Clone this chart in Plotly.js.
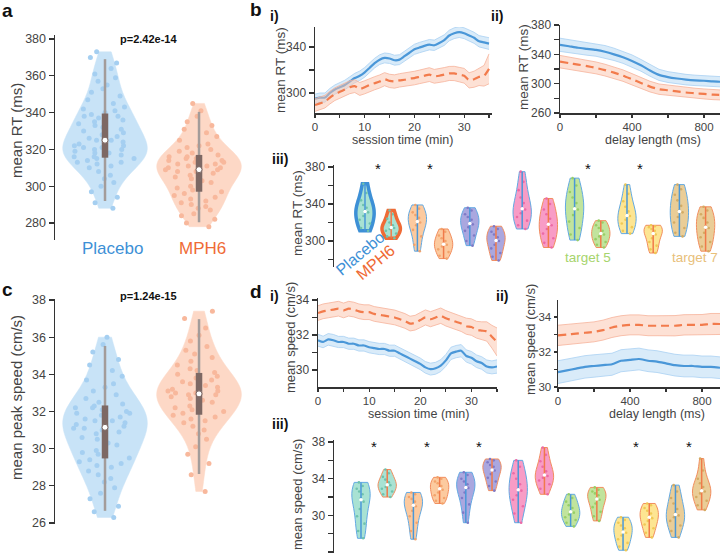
<!DOCTYPE html>
<html><head><meta charset="utf-8">
<script src="https://cdn.plot.ly/plotly-3.0.1.min.js"></script>
<style>html,body{margin:0;padding:0;background:#fff}#chart{width:720px;height:556px}</style>
</head><body><div id="chart"></div>
<script>
// ---------------- DATA ----------------
const conditions = ['Placebo', 'MPH6'];
const rtPlacebo = [288,291,294,297,300,302,304,306,308,310,311,312,313,313,314,315,315,316,316,317,317,318,318,319,319,320,320,321,321,322,322,323,324,325,325,326,327,328,329,330,331,332,333,334,335,336,337,338,338,339,340,341,342,343,345,347,349,351,353,355,357,359,361,364,367,370,373];
const rtMPH6 = [278,280,282,284,285,287,288,289,290,291,292,293,294,295,296,297,298,299,300,301,302,303,304,305,306,306,307,308,308,309,309,310,310,311,311,312,312,313,313,314,314,315,315,316,316,317,318,319,320,321,322,323,325,327,329,331,333,335,338,341,345];
const speedPlacebo = [26.3,26.6,26.9,27.3,27.6,27.9,28.2,28.4,28.6,28.8,29.0,29.1,29.2,29.3,29.4,29.5,29.7,29.8,29.9,30.1,30.2,30.3,30.5,30.6,30.7,30.8,30.9,31.0,31.1,31.1,31.2,31.3,31.4,31.5,31.5,31.6,31.7,31.8,31.9,31.9,32.0,32.1,32.2,32.2,32.3,32.4,32.5,32.7,32.9,33.1,33.3,33.5,33.7,33.9,34.2,34.5,34.8,35.2,35.6,36.0];
const speedMPH6 = [27.7,28.6,29.2,29.7,30.1,30.5,30.8,31.0,31.2,31.4,31.5,31.6,31.7,31.8,31.9,32.0,32.1,32.2,32.3,32.4,32.5,32.6,32.7,32.8,32.8,32.9,32.9,33.0,33.0,33.1,33.1,33.2,33.3,33.4,33.5,33.6,33.7,33.8,33.9,34.0,34.1,34.2,34.3,34.5,34.7,34.9,35.1,35.3,35.5,35.8,36.1,36.5,37.0,37.4];
const pValueRT = 'p=2.42e-14';
const pValueSpeed = 'p=1.24e-15';

const sessionTime = [0,1,2,3,4,5,6,7,8,9,10,11,12,13,14,15,16,17,18,19,20,21,22,23,24,25,26,27,28,29,30,31,32,33,34,35];
const rtSessPlacebo = [295,296,296,300,303,305,307,310,313,315,318,322,326,329,330.5,330,328.5,329,332,335,338,339.5,341,342,341.5,343.5,346,350,352,353,352,350,348,345,344,343];
const rtSessPlaceboSem = [4,4,4,4,4,4,4.1,4.1,4.1,4.1,4.2,4.2,4.2,4.2,4.3,4.3,4.3,4.3,4.4,4.4,4.4,4.5,4.5,4.5,4.5,4.6,4.6,4.6,4.7,4.7,4.7,4.8,4.8,4.9,5,5.1];
const rtSessMPH6 = [289.5,291,292.5,296,299,301,303,305,306,303.5,305,307,308.5,310,312,310.5,310,311,311.5,312.5,313,314,315,316,314.5,315,316,317,317,316,315,311,312,314,315,321];
const rtSessMPH6Sem = [5.5,5.5,5.5,5.5,5.5,5.6,5.6,5.6,5.6,5.6,5.7,5.7,5.7,5.7,5.7,5.8,5.8,5.8,5.8,5.8,5.9,5.9,5.9,6,6,6,6.1,6.1,6.2,6.3,6.4,6.6,7,7.5,9,13];

const delayLength = [0,50,100,150,200,250,300,350,400,450,500,550,600,650,700,750,800,850,900];
const rtDelPlacebo = [353,351,349,347.5,346,343.5,340,336,331,325,318,312,309,307,305.5,304.5,304,303,302.5];
const rtDelPlaceboSem = [9,9,8.8,8.7,8.6,8.5,8.4,8.3,8.2,8,7.8,7.6,7.4,7.3,7.2,7.1,7,7,7];
const rtDelMPH6 = [330,328,326,324,321.5,318.5,315,311,306,301,296,292.5,291,289.5,288,287,286,285,284.5];
const rtDelMPH6Sem = [8.5,8.4,8.3,8.2,8.1,8,7.9,7.8,7.7,7.5,7.3,7.1,7,6.9,6.8,6.8,6.8,6.8,6.8];

const spdSessPlacebo = [31.7,31.6,31.75,31.7,31.6,31.6,31.5,31.5,31.4,31.4,31.3,31.25,31.2,31.2,31.1,31.1,30.95,30.8,30.65,30.5,30.35,30.15,30.05,30.1,30.25,30.55,30.95,31.05,31.1,30.8,30.7,30.5,30.4,30.2,30.15,30.2];
const spdSessPlaceboSem = [0.34,0.33,0.33,0.33,0.32,0.32,0.32,0.32,0.32,0.32,0.32,0.32,0.32,0.32,0.32,0.32,0.32,0.33,0.33,0.33,0.33,0.33,0.34,0.34,0.34,0.34,0.35,0.35,0.35,0.35,0.36,0.36,0.36,0.37,0.37,0.38];
const spdSessMPH6 = [33.25,33.35,33.4,33.45,33.5,33.4,33.5,33.45,33.35,33.3,33.3,33.2,33.15,33.1,33.05,33.0,32.9,32.8,32.65,32.7,32.85,33.0,32.9,33.0,33.1,32.95,32.85,32.75,32.65,32.5,32.45,32.3,32.25,32.2,31.9,31.6];
const spdSessMPH6Sem = [0.42,0.42,0.42,0.42,0.42,0.42,0.42,0.42,0.42,0.42,0.42,0.42,0.42,0.42,0.42,0.42,0.42,0.42,0.42,0.42,0.43,0.43,0.43,0.43,0.44,0.44,0.44,0.45,0.45,0.46,0.47,0.48,0.5,0.55,0.65,0.8];

const spdDelPlacebo = [30.85,30.95,31.05,31.15,31.2,31.25,31.3,31.5,31.55,31.6,31.5,31.45,31.35,31.25,31.2,31.2,31.15,31.15,31.1];
const spdDelPlaceboSem = [0.65,0.65,0.65,0.64,0.64,0.63,0.63,0.63,0.62,0.62,0.62,0.62,0.62,0.62,0.62,0.62,0.62,0.62,0.62];
const spdDelMPH6 = [32.95,33.0,33.05,33.1,33.15,33.25,33.4,33.5,33.55,33.55,33.5,33.5,33.5,33.5,33.55,33.55,33.55,33.6,33.6];
const spdDelMPH6Sem = [0.58,0.58,0.58,0.58,0.57,0.57,0.57,0.57,0.57,0.57,0.57,0.57,0.57,0.58,0.58,0.58,0.59,0.6,0.6];

const targetNames = ['target 1','target 2','target 3','target 4','target 5','target 6','target 7'];
const targetRTPlacebo = [
  [311,314,319,323,327,331,333,336,339,344,352,362],
  [289,296,305,312,317,320,322,325,328,331,335,339],
  [295,300,306,311,315,318,320,323,326,329,333,336],
  [313,317,322,326,330,334,336,341,347,355,364,375],
  [301,307,314,321,328,334,336,341,347,353,360,368],
  [308,311,315,319,323,327,328,332,337,343,351,361],
  [305,309,314,320,326,331,333,338,344,350,356,361]];
const targetRTMPH6 = [
  [303,305,308,311,313,314,315,317,320,324,329,333],
  [281,284,288,291,294,296,297,300,303,306,310,313],
  [279,283,287,292,296,300,301,304,307,310,313,316],
  [293,298,303,308,313,317,319,324,329,334,340,346],
  [293,296,299,302,305,307,309,311,314,317,320,322],
  [287,291,295,299,303,307,309,311,313,315,316,317],
  [289,294,299,304,309,314,316,320,325,329,333,337]];
const targetSpeedPlacebo = [
  [27.5,28.3,29.1,29.9,30.7,31.5,31.9,32.3,32.6,32.9,33.2,33.6],
  [27.4,28.3,29.2,29.9,30.5,31.0,31.2,31.5,31.8,32.0,32.3,32.5],
  [29.2,30.3,31.2,31.9,32.5,33.0,33.1,33.4,33.7,34.0,34.4,34.7],
  [29.2,30.2,31.0,31.7,32.2,32.7,32.9,33.4,34.0,34.6,35.3,36.0],
  [28.8,29.2,29.5,29.8,30.1,30.3,30.5,30.8,31.1,31.5,31.9,32.3],
  [26.2,26.6,27.0,27.4,27.8,28.1,28.3,28.6,28.9,29.2,29.5,29.8],
  [27.6,28.3,28.9,29.4,29.8,30.0,30.2,30.7,31.3,31.9,32.6,33.3]];
const targetSpeedMPH6 = [
  [32.0,32.3,32.6,32.9,33.1,33.3,33.4,33.6,33.9,34.2,34.6,35.0],
  [31.3,31.6,31.9,32.2,32.5,32.8,33.0,33.2,33.5,33.7,34.0,34.15],
  [32.7,33.2,33.7,34.1,34.5,34.9,35.0,35.3,35.5,35.8,36.0,36.15],
  [32.3,32.9,33.4,33.8,34.1,34.3,34.5,34.8,35.3,35.9,36.6,37.4],
  [29.4,29.9,30.4,30.9,31.3,31.7,31.9,32.2,32.4,32.6,32.8,33.05],
  [27.6,28.1,28.6,29.0,29.4,29.7,29.9,30.2,30.5,30.8,31.1,31.3],
  [30.6,31.1,31.6,32.0,32.4,32.6,32.8,33.1,33.5,34.0,34.9,36.2]];
const sigTargetsRT = [1,2,5,6];
const sigTargetsSpeed = [1,2,3,6,7];

// tick labels
const aTickVals = [280,300,320,340,360,380], aTickText = ['280','300','320','340','360','380'];
const cTickVals = [26,28,30,32,34,36,38], cTickText = ['26','28','30','32','34','36','38'];
const biYVals = [300,320,340], biYText = ['300','','340'];
const sessXVals = [0,5,10,15,20,25,30,35], sessXText = ['0','','10','','20','','30',''];
const biiYVals = [260,280,300,320,340,360,380], biiYText = ['260','','300','','340','','380'];
const delXVals = [0,200,400,600,800], delXText = ['0','','400','','800'];
const biiiYVals = [280,300,320,340,360,380], biiiYText = ['','300','','340','','380'];
const diYVals = [30,31,32,33,34], diYText = ['30','','32','','34'];
const diiYVals = [30,31,32,33,34,35], diiYText = ['30','','32','','34',''];
const diiiYVals = [26,28,30,32,34,36,38], diiiYText = ['26','','30','','34','','38'];

// ---------------- STYLE ----------------
const FONT = '"Liberation Sans", Arial, Helvetica, sans-serif';
const W = 720, H = 556;
const BLUE = '#3d90d6', ORANGE = '#ef6b36';
const targetFill = ['#a8e2d3','#fcca9f','#aaa7df','#f89cc6','#c1e49d','#fde592','#eacd97'];
const targetPts  = ['#6fc3ad','#f3a46c','#7f7ac7','#ec6aa6','#98cf66','#f0c955','#d4ab63'];
const xd = (a,b) => [a/W, b/W];
const yd = (t,b) => [1-b/H, 1-t/H];

function quant(arr, p){const s=[...arr].sort((a,b)=>a-b);const i=(s.length-1)*p;const lo=Math.floor(i),hi=Math.ceil(i);return s[lo]+(s[hi]-s[lo])*(i-lo);}

const traces = [];
function violin(y, k, xa, ya, fill, lineColor, lineWidth, pt, ptSize, width, jitter){
  return {type:'violin', orientation:'v', x0:k, y:y, xaxis:xa, yaxis:ya, fillcolor:fill,
    line:{color:lineColor, width:lineWidth}, points:'all', pointpos:0, jitter:jitter,
    marker:{color:pt, size:ptSize, line:{width:0}}, spanmode:'hard', scalemode:'width', width:width,
    box:{visible:false}, meanline:{visible:false}, hoverinfo:'skip', name:''};
}
function bigBox(sets, xa, ya){
  const wx=[],wy=[],bx=[],by=[],mx=[],my=[];
  sets.forEach((d,k)=>{wx.push(k,k,null);wy.push(quant(d,0.02),quant(d,0.98),null);
    bx.push(k,k,null);by.push(quant(d,0.25),quant(d,0.75),null);mx.push(k);my.push(quant(d,0.5));});
  traces.push({type:'scatter',mode:'lines',x:wx,y:wy,xaxis:xa,yaxis:ya,line:{color:'#a39c9a',width:2.5},hoverinfo:'skip'});
  traces.push({type:'scatter',mode:'lines',x:bx,y:by,xaxis:xa,yaxis:ya,line:{color:'#7d6864',width:6.5},hoverinfo:'skip'});
  traces.push({type:'scatter',mode:'markers',x:mx,y:my,xaxis:xa,yaxis:ya,marker:{color:'#fff',size:6,line:{color:'#7d6864',width:1}},hoverinfo:'skip'});
}
// panel a
traces.push(violin(rtPlacebo,0,'x','y','#c8e3f7','#c8e3f7',0.5,'#a5cff1',5,0.9,0.85));
traces.push(violin(rtMPH6,1,'x','y','#fdd8c6','#fdd8c6',0.5,'#f8b89c',5,0.9,0.85));
bigBox([rtPlacebo, rtMPH6],'x','y');
// panel c
traces.push(violin(speedPlacebo,0,'x5','y5','#c8e3f7','#c8e3f7',0.5,'#a5cff1',5,0.9,0.85));
traces.push(violin(speedMPH6,1,'x5','y5','#fdd8c6','#fdd8c6',0.5,'#f8b89c',5,0.9,0.85));
bigBox([speedPlacebo, speedMPH6],'x5','y5');

// band panels
function band(x, m, e, xa, ya, color, bandFill, edge, dash){
  const lo = m.map((v,i)=>v-e[i]), hi = m.map((v,i)=>v+e[i]);
  traces.push({type:'scatter',mode:'lines',x:x,y:lo,xaxis:xa,yaxis:ya,line:{color:edge,width:0.8},hoverinfo:'skip'});
  traces.push({type:'scatter',mode:'lines',x:x,y:hi,xaxis:xa,yaxis:ya,line:{color:edge,width:0.8},fill:'tonexty',fillcolor:bandFill,hoverinfo:'skip'});
  traces.push({type:'scatter',mode:'lines',x:x,y:m,xaxis:xa,yaxis:ya,line:{color:color,width:2.2,dash:dash,shape:'spline',smoothing:0.6},hoverinfo:'skip'});
}
const BF='rgba(170,210,242,0.45)', BE='#a9d1f2', OF='rgba(251,196,172,0.5)', OE='#f6b39a';
band(sessionTime, rtSessPlacebo, rtSessPlaceboSem, 'x2','y2', '#4a97d8', BF, BE, 'solid');
band(sessionTime, rtSessMPH6, rtSessMPH6Sem, 'x2','y2', '#f27b4c', OF, OE, '8px,5px');
band(delayLength, rtDelPlacebo, rtDelPlaceboSem, 'x3','y3', '#4a97d8', BF, BE, 'solid');
band(delayLength, rtDelMPH6, rtDelMPH6Sem, 'x3','y3', '#f27b4c', OF, OE, '8px,5px');
band(sessionTime, spdSessPlacebo, spdSessPlaceboSem, 'x6','y6', '#4a97d8', BF, BE, 'solid');
band(sessionTime, spdSessMPH6, spdSessMPH6Sem, 'x6','y6', '#f27b4c', OF, OE, '8px,5px');
band(delayLength, spdDelPlacebo, spdDelPlaceboSem, 'x7','y7', '#4a97d8', BF, BE, 'solid');
band(delayLength, spdDelMPH6, spdDelMPH6Sem, 'x7','y7', '#f27b4c', OF, OE, '8px,5px');

// target violins
function targetPanel(pl, mp, xa, ya, thickFirst){
  const lx={p:[],m:[]}, ly={p:[],m:[]}, mx=[], my=[];
  for(let t=0;t<pl.length;t++){
    const kp=2*t+1, km=2*t+2;
    const thick = thickFirst && t===0;
    traces.push(violin(pl[t],kp,xa,ya,targetFill[t],thick?BLUE:'#62a9e3',thick?3.5:1,targetPts[t],2.6,0.7,0.7));
    traces.push(violin(mp[t],km,xa,ya,targetFill[t],thick?ORANGE:'#f28d5e',thick?3.5:1,targetPts[t],2.6,0.7,0.7));
    lx.p.push(kp,kp,null); ly.p.push(Math.min(...pl[t]),Math.max(...pl[t]),null);
    lx.m.push(km,km,null); ly.m.push(Math.min(...mp[t]),Math.max(...mp[t]),null);
    mx.push(kp,km); my.push(quant(pl[t],0.5),quant(mp[t],0.5));
  }
  traces.push({type:'scatter',mode:'lines',x:lx.p,y:ly.p,xaxis:xa,yaxis:ya,line:{color:'#4a97d8',width:1.5},hoverinfo:'skip'});
  traces.push({type:'scatter',mode:'lines',x:lx.m,y:ly.m,xaxis:xa,yaxis:ya,line:{color:'#f07a4a',width:1.5},hoverinfo:'skip'});
  traces.push({type:'scatter',mode:'markers',x:mx,y:my,xaxis:xa,yaxis:ya,marker:{color:'#fff',size:3.5},hoverinfo:'skip'});
}
targetPanel(targetRTPlacebo, targetRTMPH6, 'x4','y4', true);
targetPanel(targetSpeedPlacebo, targetSpeedMPH6, 'x8','y8', false);

// ---------------- LAYOUT ----------------
function yAxis(dom, range, vals, text, anchor, size, tl){
  return {domain:dom, range:range, anchor:anchor, tickmode:'array', tickvals:vals, ticktext:text,
    showline:true, linecolor:'#333', linewidth:1.5, ticks:'outside', ticklen:(tl||5), tickwidth:1.2, tickcolor:'#333',
    tickfont:{family:FONT,size:size||12,color:'#444'}, showgrid:false, zeroline:false, fixedrange:true};
}
function xAxis(dom, range, vals, text, anchor){
  if(!vals) return {domain:dom, range:range, anchor:anchor, visible:false, fixedrange:true};
  return {domain:dom, range:range, anchor:anchor, tickmode:'array', tickvals:vals, ticktext:text,
    showline:true, linecolor:'#333', linewidth:1.5, ticks:'outside', ticklen:3, tickwidth:1.2, tickcolor:'#333',
    tickfont:{family:FONT,size:11.5,color:'#444'}, showgrid:false, zeroline:false, fixedrange:true};
}

const annotations = [];
function ann(text, x, y, o){o=o||{};annotations.push(Object.assign({text:text, x:x/W, y:1-y/H, xref:'paper', yref:'paper', showarrow:false,
  xanchor:'center', yanchor:'middle', font:{family:FONT,size:o.size||13,color:o.color||'#444'}}, o.extra||{}));}
// panel letters
ann('<b>a</b>',7,10,{size:19,color:'#111'}); ann('<b>b</b>',256,9,{size:19,color:'#111'});
ann('<b>c</b>',7,289,{size:19,color:'#111'}); ann('<b>d</b>',256,291,{size:19,color:'#111'});
ann('<b>i)</b>',274,16,{size:14,color:'#111'}); ann('<b>ii)</b>',497,16,{size:14,color:'#111'});
ann('<b>iii)</b>',280,159,{size:14,color:'#111'});
ann('<b>i)</b>',274,296,{size:14,color:'#111'}); ann('<b>ii)</b>',502,296,{size:14,color:'#111'});
ann('<b>iii)</b>',280,424,{size:14,color:'#111'});
// p values
ann('<b>'+pValueRT+'</b>',148,39,{size:11,color:'#111'});
ann('<b>'+pValueSpeed+'</b>',148,296,{size:11,color:'#111'});
// condition labels
ann(conditions[0],112,248,{size:17,color:'#3d90d6'}); ann(conditions[1],202,248,{size:17,color:'#ef6b36'});
ann(conditions[0],360,253,{size:16,color:'#3d90d6',extra:{textangle:-40}});
ann(conditions[1],375,262,{size:16,color:'#ef6b36',extra:{textangle:-40}});
ann(targetNames[4],588,257,{size:13.5,color:'#a6d46c'});
ann(targetNames[6],695,257,{size:13.5,color:'#e8c07a'});
// axis titles
ann('mean RT (ms)',16,131,{size:15,extra:{textangle:-90}});
ann('mean peak speed (cm/s)',16,398,{size:15,extra:{textangle:-90}});
ann('mean RT (ms)',280,70,{size:13.5,extra:{textangle:-90}});
ann('session time (min)',402,140,{size:12.5});
ann('mean RT (ms)',523,67,{size:13.5,extra:{textangle:-90}});
ann('delay length (ms)',653,140,{size:12.5});
ann('mean RT (ms)',297,213,{size:13.5,extra:{textangle:-90}});
ann('mean speed (cm/s)',290,338,{size:13,extra:{textangle:-90}});
ann('session time (min)',418,413.5,{size:12.5});
ann('mean speed (cm/s)',530,340,{size:13,extra:{textangle:-90}});
ann('delay length (ms)',657,413.5,{size:12.5});
ann('mean speed (cm/s)',297,495,{size:13,extra:{textangle:-90}});
// significance stars (data coords)
sigTargetsRT.forEach(t=>annotations.push({text:'*',x:2*t-0.5,y:378,xref:'x4',yref:'y4',showarrow:false,font:{family:FONT,size:15,color:'#111'},yanchor:'middle'}));
sigTargetsSpeed.forEach(t=>annotations.push({text:'*',x:2*t-0.5,y:37.5,xref:'x8',yref:'y8',showarrow:false,font:{family:FONT,size:15,color:'#111'},yanchor:'middle'}));

const layout = {
  width:W, height:H, margin:{l:0,r:0,t:0,b:0}, paper_bgcolor:'#fff', plot_bgcolor:'rgba(0,0,0,0)',
  showlegend:false, violinmode:'overlay', font:{family:FONT}, annotations:annotations,
  xaxis: xAxis(xd(55,245), [-0.532,1.489], null, null, 'y'),
  yaxis: yAxis(yd(35,240), [270.76,382.17], aTickVals, aTickText, 'x', 12.5),
  xaxis2: xAxis(xd(315,492), [0,35.6], sessXVals, sessXText, 'y2'),
  yaxis2: yAxis(yd(27,113), [282.6,357.4], biYVals, biYText, 'x2'),
  xaxis3: xAxis(xd(560,720), [0,889], delXVals, delXText, 'y3'),
  yaxis3: yAxis(yd(25,113), [260,380], biiYVals, biiYText, 'x3'),
  xaxis4: xAxis(xd(334,720), [-0.183,14.55], null, null, 'y4'),
  yaxis4: yAxis(yd(165,267), [271.9,382.2], biiiYVals, biiiYText, 'x4'),
  xaxis5: xAxis(xd(55,245), [-0.532,1.489], null, null, 'y5'),
  yaxis5: yAxis(yd(299,524), [25.946,38.054], cTickVals, cTickText, 'x5', 12.5),
  xaxis6: xAxis(xd(318,497), [0,35], sessXVals, sessXText, 'y6'),
  yaxis6: yAxis(yd(298,387), [29.03,34.11], diYVals, diYText, 'x6'),
  xaxis7: xAxis(xd(558,720), [0,900], delXVals, delXText, 'y7'),
  yaxis7: yAxis(yd(300,387), [30,34.97], diiYVals, diiYText, 'x7', 11.5, 3),
  xaxis8: xAxis(xd(334,720), [-0.03,14.7], null, null, 'y8'),
  yaxis8: yAxis(yd(440,553), [25.9,38.22], diiiYVals, diiiYText, 'x8')
};
Plotly.newPlot('chart', traces, layout, {staticPlot:true, displayModeBar:false});
</script></body></html>
